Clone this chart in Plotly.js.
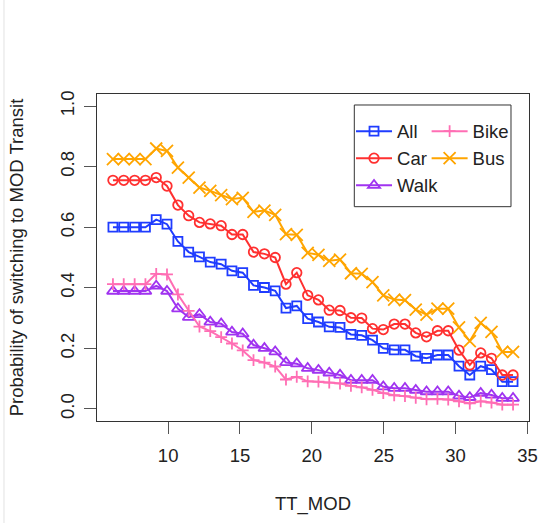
<!DOCTYPE html>
<html><head><meta charset="utf-8">
<script src="https://cdn.plot.ly/plotly-3.0.1.min.js"></script>
<style>html,body{margin:0;padding:0;background:#fff;} #chart{width:539px;height:523px;}</style>
</head><body><div id="chart"></div>
<script>
// TT_MOD values (x)
const ttMod = [6.16, 6.91, 7.67, 8.42, 9.17, 9.92, 10.68, 11.43, 12.18, 12.93,
  13.69, 14.44, 15.19, 15.94, 16.70, 17.45, 18.20, 18.95, 19.71, 20.46,
  21.21, 21.96, 22.72, 23.47, 24.22, 24.97, 25.73, 26.48, 27.23, 27.98,
  28.74, 29.49, 30.24, 30.99, 31.75, 32.50, 33.25, 34.00];

const probAll = [0.600, 0.600, 0.600, 0.600, 0.625, 0.610, 0.553, 0.518, 0.502, 0.485,
  0.478, 0.456, 0.450, 0.408, 0.401, 0.390, 0.333, 0.340, 0.298, 0.287,
  0.271, 0.269, 0.246, 0.243, 0.227, 0.200, 0.195, 0.195, 0.174, 0.167,
  0.178, 0.178, 0.141, 0.112, 0.141, 0.130, 0.090, 0.090];

const probCar = [0.755, 0.755, 0.755, 0.755, 0.764, 0.736, 0.673, 0.638, 0.616, 0.611,
  0.605, 0.576, 0.576, 0.518, 0.512, 0.500, 0.412, 0.450, 0.375, 0.360,
  0.326, 0.325, 0.301, 0.300, 0.265, 0.262, 0.280, 0.280, 0.251, 0.238,
  0.258, 0.258, 0.194, 0.145, 0.185, 0.167, 0.112, 0.112];

const probWalk = [0.389, 0.389, 0.389, 0.389, 0.406, 0.389, 0.331, 0.303, 0.312, 0.287,
  0.281, 0.254, 0.248, 0.211, 0.200, 0.189, 0.153, 0.149, 0.134, 0.128,
  0.119, 0.112, 0.095, 0.095, 0.095, 0.073, 0.068, 0.068, 0.062, 0.057,
  0.057, 0.057, 0.043, 0.038, 0.052, 0.046, 0.035, 0.035];

const probBike = [0.412, 0.412, 0.412, 0.412, 0.446, 0.444, 0.378, 0.324, 0.272, 0.257,
  0.237, 0.216, 0.193, 0.161, 0.153, 0.140, 0.097, 0.106, 0.091, 0.090,
  0.087, 0.084, 0.076, 0.071, 0.063, 0.052, 0.045, 0.042, 0.037, 0.032,
  0.033, 0.031, 0.025, 0.018, 0.025, 0.021, 0.014, 0.014];

const probBus = [0.825, 0.825, 0.825, 0.825, 0.860, 0.852, 0.797, 0.764, 0.731, 0.720,
  0.706, 0.693, 0.697, 0.651, 0.655, 0.641, 0.577, 0.575, 0.515, 0.509,
  0.489, 0.493, 0.448, 0.446, 0.419, 0.375, 0.361, 0.359, 0.328, 0.311,
  0.331, 0.331, 0.269, 0.224, 0.284, 0.254, 0.188, 0.188];

const xTicks = [10, 15, 20, 25, 30, 35];
const yTicks = [0, 0.2, 0.4, 0.6, 0.8, 1.0];

const FONT = '"Liberation Sans", Arial, Helvetica, sans-serif';
const FS = 18.5;

function series(name, y, color, symbol, size, legend) {
  return {
    type: 'scatter', mode: 'lines+markers', x: ttMod, y: y, name: name,
    legend: legend, legendgroup: name,
    line: {color: color, width: 2},
    marker: {symbol: symbol, size: size, color: color, line: {color: color, width: 1.8}},
    hoverinfo: 'skip'
  };
}

const data = [
  series('All', probAll, '#1f3cff', 'square-open', 9, 'legend'),
  series('Car', probCar, '#ff3030', 'circle-open', 9.5, 'legend'),
  series('Walk', probWalk, '#a033f0', 'triangle-up-open', 10.5, 'legend'),
  series('Bike', probBike, '#ff6eb4', 'cross-thin-open', 8.5, 'legend2'),
  series('Bus', probBus, '#ffa500', 'x-thin-open', 12, 'legend2')
];

const legendCommon = {
  bgcolor: 'rgba(0,0,0,0)', borderwidth: 0, xanchor: 'left', yanchor: 'top',
  font: {family: FONT, size: FS, color: '#222'}, tracegroupgap: 0, itemwidth: 36
};

const layout = {
  width: 539, height: 523,
  margin: {l: 97, r: 10, t: 94, b: 102},
  paper_bgcolor: '#fff', plot_bgcolor: '#fff',
  font: {family: FONT, size: FS, color: '#222'},
  showlegend: true,
  legend: Object.assign({x: 0.588, y: 0.943}, legendCommon),
  legend2: Object.assign({x: 0.763, y: 0.943}, legendCommon),
  xaxis: {
    range: [5.05, 35.11], tickvals: xTicks, ticktext: xTicks.map(String),
    showgrid: false, zeroline: false, showline: true, mirror: true,
    linecolor: '#333', linewidth: 1,
    ticks: 'outside', ticklen: 12, tickwidth: 1, tickcolor: '#555',
    ticklabelstandoff: 6,
    tickfont: {family: FONT, size: FS, color: '#222'},
    title: {text: 'TT_MOD', font: {family: FONT, size: FS, color: '#222'}, standoff: 31}
  },
  yaxis: {
    range: [-0.04, 1.04], tickvals: yTicks, ticktext: yTicks.map(v => v.toFixed(1)),
    tickangle: -90,
    showgrid: false, zeroline: false, showline: true, mirror: true,
    linecolor: '#333', linewidth: 1,
    ticks: 'outside', ticklen: 12, tickwidth: 1, tickcolor: '#555',
    ticklabelstandoff: 3,
    tickfont: {family: FONT, size: FS, color: '#222'},
    title: {text: 'Probability of switching to MOD Transit', font: {family: FONT, size: FS, color: '#222'}, standoff: 27.5}
  },
  shapes: [
    {type: 'rect', xref: 'paper', yref: 'paper', x0: 0.5956, x1: 0.9583, y0: 0.6554, y1: 0.9664,
     line: {color: '#333', width: 1}, fillcolor: 'rgba(0,0,0,0)'},
    {type: 'line', xref: 'paper', yref: 'paper', x0: -0.2153, x1: -0.2153, y0: -0.32, y1: 1.29,
     line: {color: '#e2e2e2', width: 1}}
  ]
};

Plotly.newPlot('chart', data, layout, {staticPlot: true, displayModeBar: false});
</script>
</body></html>
